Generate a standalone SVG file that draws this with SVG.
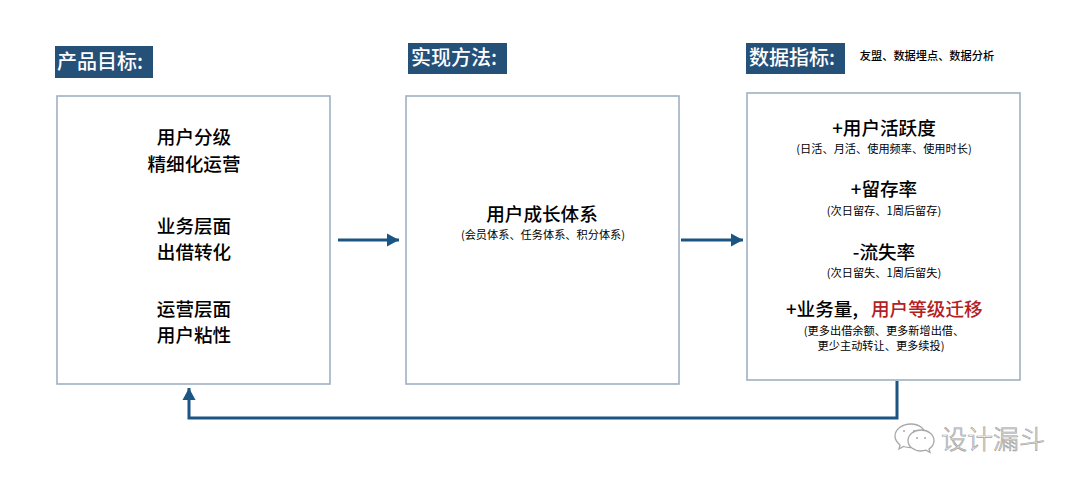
<svg xmlns="http://www.w3.org/2000/svg" width="1080" height="487" viewBox="0 0 1080 487">
<defs>
<marker id="ah" markerUnits="userSpaceOnUse" markerWidth="14" markerHeight="14" refX="12" refY="7" orient="auto"><path d="M0 0.500L12 7L0 13.500Z" fill="#1b5583"/></marker>
</defs>
<style>
text{font-family:"Noto Sans CJK SC","Liberation Sans",sans-serif;text-anchor:middle;fill:#000}
.box{fill:#fff;stroke:#9fb0c2;stroke-width:1.6}
.tag{fill:#255078}
.hd{font-size:20px;font-weight:500;fill:#fff;text-anchor:start}
.t{font-size:18.6px;font-weight:500}
.s{font-size:11.2px}
.conn{fill:none;stroke:#1b5583;stroke-width:3}
.wm{fill:#fff;stroke:#a8a8a8;stroke-width:1.3}
.eye{fill:#a8a8a8}
</style>
<rect width="1080" height="487" fill="#fff"/>
<g id="connectors">
<path class="conn" d="M338 240H399" marker-end="url(#ah)"/>
<path class="conn" d="M681 240H743" marker-end="url(#ah)"/>
<path class="conn" d="M897 381V418H189V388" marker-end="url(#ah)"/>
</g>
<g id="node-goal">
<rect class="tag" x="55" y="46" width="98" height="32"/>
<text class="hd" x="57" y="69">产品目标:</text>
<rect class="box" x="57" y="96" width="273" height="288"/>
<text class="t" x="194" y="144">用户分级</text>
<text class="t" x="194" y="171">精细化运营</text>
<text class="t" x="194" y="233">业务层面</text>
<text class="t" x="194" y="259">出借转化</text>
<text class="t" x="194" y="316">运营层面</text>
<text class="t" x="194" y="342">用户粘性</text>
</g>
<g id="node-method">
<rect class="tag" x="408" y="43" width="99" height="31"/>
<text class="hd" x="411" y="65">实现方法:</text>
<rect class="box" x="406" y="96" width="273" height="288"/>
<text class="t" x="542" y="221">用户成长体系</text>
<text class="s" x="543" y="239">(会员体系、任务体系、积分体系)</text>
</g>
<g id="node-metrics">
<rect class="tag" x="746" y="43" width="99" height="31"/>
<text class="hd" x="749" y="65">数据指标:</text>
<text x="927" y="60" style="font-size:11.2px;font-weight:500">友盟、数据埋点、数据分析</text>
<rect class="box" x="747" y="93" width="273" height="287"/>
<text class="t" x="884" y="135">+用户活跃度</text>
<text class="s" x="884" y="153">(日活、月活、使用频率、使用时长)</text>
<text class="t" x="884" y="196">+留存率</text>
<text class="s" x="884" y="215">(次日留存、1周后留存)</text>
<text class="t" x="884" y="259">-流失率</text>
<text class="s" x="884" y="277">(次日留失、1周后留失)</text>
<text class="t" x="786" y="316" style="text-anchor:start">+业务量,</text>
<text class="t" x="871" y="316" style="text-anchor:start;fill:#b3201f">用户等级迁移</text>
<text class="s" x="884" y="335">(更多出借余额、更多新增出借、</text>
<text class="s" x="881" y="350">更少主动转让、更多续投)</text>
</g>
<g id="watermark">
<path class="wm" d="M911 424c-9 0-16 5.500-16 12 0 3.500 2 6.500 5 9l-1 4 4.500-2.500c2 .6 4 1 6.500 1 7 0 14-4 16-10 0-8-6-13.500-15-13.500z"/>
<circle class="eye" cx="904" cy="431" r="1"/><circle class="eye" cx="914" cy="431" r="1"/>
<path class="wm" d="M921 430c-7 0-13 4.500-13 10.500s6 10.500 13 10.500c1.800 0 3.500-.3 5-.8l4 2.300-1-3.500c3-2 5-5 5-8.500 0-6-6-10.500-13-10.500z"/>
<circle class="eye" cx="917" cy="438" r="1"/><circle class="eye" cx="925" cy="438" r="1"/>
<text x="993" y="449" style="font-size:26px;font-weight:300;fill:#fff;stroke:#a0a0a0;stroke-width:.7">设计漏斗</text>
</g>
</svg>
